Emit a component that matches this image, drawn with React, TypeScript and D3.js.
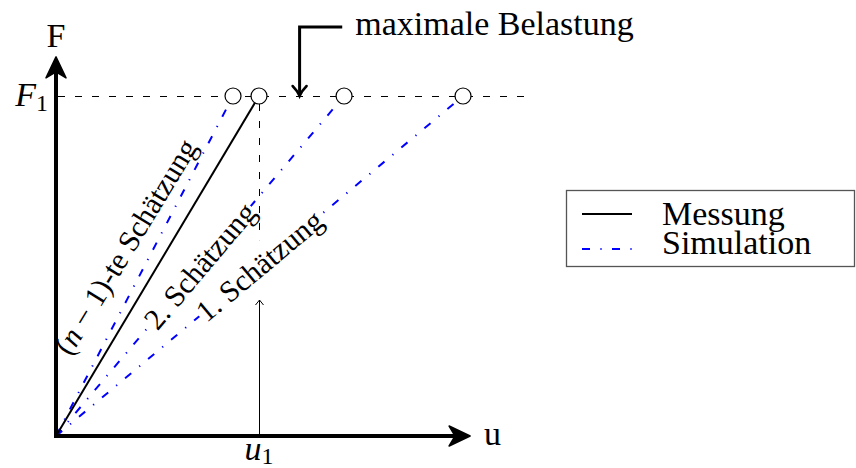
import React from "react";
import * as d3 from "d3";

// ---- data (u and F in units of u1 and F1) ----
const seriesNames = ["Messung", "Simulation"];
const F1 = 1.0;
const measuredU = 1.0; // u1
const estimateLabels = ["1. Schätzung", "2. Schätzung", "(n − 1)-te Schätzung"];
const estimateU = [2.005, 1.419, 0.872];
const axisMaxU = 2.04;
const axisMaxF = 1.115;
const refLineMaxU = 2.32;
const annotationU = 1.2;
const annotationTopF = 1.203;
const annotationEndU = 1.41;
const annotationText = "maximale Belastung";
const dashedDownToF = 0.576;
const thinArrowTopF = 0.4;

const FONT = "'Liberation Serif', 'DejaVu Serif', serif";
const BLUE = "#0000ff";
const DASHDOT = "8 10.4 1.2 10.4";
const DASHED = "7 10";

function measure(text: string, size: number): number {
  if (typeof document === "undefined") return text.length * size * 0.45;
  const c = document.createElement("canvas");
  const ctx = c.getContext("2d")!;
  ctx.font = `${size}px 'Liberation Serif'`;
  return ctx.measureText(text).width;
}

export default function App() {
  const W = 856;
  const H = 468;
  const x = d3.scaleLinear().domain([0, 1]).range([56, 259]);
  const y = d3.scaleLinear().domain([0, 1]).range([436, 96]);
  const line = d3.line<[number, number]>().x((d) => x(d[0])).y((d) => y(d[1]));

  const x0 = x(0);
  const y0 = y(0);
  const xTip = x(axisMaxU);
  const yTip = y(axisMaxF);
  const xm = x(measuredU) + 0.5;
  const yF = y(F1) + 0.5;

  const angleOf = (u: number) => {
    const dx = x(u) - x0;
    const dy = y(F1) - y0;
    return (Math.atan2(dy, dx) * 180) / Math.PI;
  };

  const labelSize = 30;
  const big = 34;

  return (
    <svg
      width={W}
      height={H}
      style={{ position: "absolute", left: 0, top: 0, background: "#fff" }}
      fontFamily={FONT}
    >
      <rect width={W} height={H} fill="#fff" />
      {/* F1 reference dashed line */}
      <line
        x1={x0 + 2}
        x2={x(refLineMaxU)}
        y1={yF}
        y2={yF}
        stroke="#000"
        strokeWidth={1}
        strokeDasharray={DASHED}
      />
      {/* thin arrow up from u1 */}
      <line x1={xm} x2={xm} y1={y0} y2={y(thinArrowTopF)} stroke="#000" strokeWidth={1} />
      <path
        d={`M${xm - 4},${y(thinArrowTopF) + 5} L${xm},${y(thinArrowTopF)} L${xm + 4},${y(thinArrowTopF) + 5}`}
        fill="none"
        stroke="#000"
        strokeWidth={1}
      />

      {/* simulation estimates */}
      {estimateU.map((u, i) => (
        <path
          key={"s" + i}
          d={line([
            [0, 0],
            [u, F1],
          ])!}
          fill="none"
          stroke={BLUE}
          strokeWidth={2}
          strokeDasharray={DASHDOT}
        />
      ))}
      {/* measurement */}
      <path
        d={line([
          [0, 0],
          [measuredU, F1],
        ])!}
        fill="none"
        stroke="#000"
        strokeWidth={2}
      />

      {/* on-line labels for 1. and 2. estimate */}
      {estimateU.slice(0, 2).map((u, i) => {
        const cx = (x0 + x(u)) / 2;
        const cy = (y0 + y(F1)) / 2;
        const a = angleOf(u);
        const w = measure(estimateLabels[i], labelSize) + 2;
        const h = 30;
        return (
          <g key={"l" + i} transform={`translate(${cx},${cy}) rotate(${a})`}>
            <rect x={-w / 2} y={-h / 2} width={w} height={h} fill="#fff" />
            <text x={0} y={labelSize * 0.33} textAnchor="middle" fontSize={labelSize}>
              {estimateLabels[i]}
            </text>
          </g>
        );
      })}
      {/* dashed vertical from measurement */}
      <line
        x1={xm}
        x2={xm}
        y1={y(F1) + 8}
        y2={y(dashedDownToF)}
        stroke="#000"
        strokeWidth={1}
        strokeDasharray={DASHED}
      />
      {/* (n-1) label above measurement line */}
      {(() => {
        const cx = (x0 + x(measuredU)) / 2;
        const cy = (y0 + y(F1)) / 2;
        const a = angleOf(measuredU) + 0.5;
        return (
          <g transform={`translate(${cx},${cy}) rotate(${a})`}>
            <text x={0} y={-27} textAnchor="middle" fontSize={labelSize}>
              (<tspan fontStyle="italic">n</tspan>
              {" − 1)-te Schätzung"}
            </text>
          </g>
        );
      })()}

      {/* circles */}
      {[...estimateU, measuredU].map((u, i) => (
        <circle
          key={"c" + i}
          cx={x(u)}
          cy={y(F1)}
          r={8}
          fill="#fff"
          stroke="#000"
          strokeWidth={1.2}
        />
      ))}

      {/* axes */}
      <line x1={x0} x2={x0} y1={y0 + 2} y2={yTip + 12} stroke="#000" strokeWidth={4} />
      <line x1={x0 - 2} x2={xTip - 12} y1={y0} y2={y0} stroke="#000" strokeWidth={4} />
      <path
        d={`M${x0},${yTip} L${x0 - 10},${yTip + 21} L${x0},${yTip + 15} L${x0 + 10},${yTip + 21} Z`}
        fill="#000"
        stroke="#000"
        strokeWidth={1.5}
        strokeLinejoin="round"
      />
      <path
        d={`M${xTip},${y0} L${xTip - 21},${y0 - 10} L${xTip - 15},${y0} L${xTip - 21},${y0 + 10} Z`}
        fill="#000"
        stroke="#000"
        strokeWidth={1.5}
        strokeLinejoin="round"
      />
      <text x={x0} y={47} textAnchor="middle" fontSize={big}>
        F
      </text>
      <text x={xTip + 14} y={445} fontSize={big}>
        u
      </text>
      <text x={48} y={106} textAnchor="end" fontSize={big}>
        <tspan fontStyle="italic">F</tspan>
        <tspan fontSize={24} dy={5}>
          1
        </tspan>
      </text>
      <text x={x(measuredU)} y={460} textAnchor="middle" fontSize={big}>
        <tspan fontStyle="italic">u</tspan>
        <tspan fontSize={24} dy={4}>
          1
        </tspan>
      </text>

      {/* annotation */}
      <path
        d={`M${x(annotationEndU)},${y(annotationTopF)} L${x(annotationU)},${y(annotationTopF)} L${x(annotationU)},${y(F1) - 2}`}
        fill="none"
        stroke="#000"
        strokeWidth={3}
      />
      <path
        d={`M${x(annotationU) - 7},${y(F1) - 10} Q${x(annotationU) - 2},${y(F1) - 5} ${x(annotationU)},${y(F1)} Q${x(annotationU) + 2},${y(F1) - 5} ${x(annotationU) + 7},${y(F1) - 10}`}
        fill="none"
        stroke="#000"
        strokeWidth={2.5}
        strokeLinecap="round"
      />
      <text x={x(annotationEndU) + 13} y={35} fontSize={big}>
        {annotationText}
      </text>

      {/* legend */}
      <rect x={566.5} y={190.5} width={288} height={76} fill="#fff" stroke="#555" strokeWidth={1.3} />
      <line x1={582} x2={632} y1={214} y2={214} stroke="#000" strokeWidth={2} />
      <line
        x1={582}
        x2={632}
        y1={249}
        y2={249}
        stroke={BLUE}
        strokeWidth={2}
        strokeDasharray={DASHDOT}
      />
      <text x={662} y={225} fontSize={big}>
        {seriesNames[0]}
      </text>
      <text x={662} y={254} fontSize={big}>
        {seriesNames[1]}
      </text>
    </svg>
  );
}
